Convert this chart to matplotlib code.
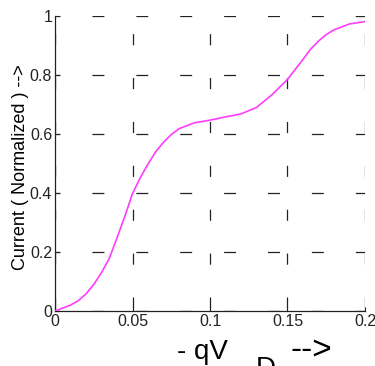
"""
Normalized current vs -qV_D curve, MATLAB-style dashed grid.
"""
import matplotlib
matplotlib.use('Agg')
import matplotlib.pyplot as plt

# data
qvd = [0, 0.005, 0.01, 0.015, 0.02, 0.025, 0.03, 0.035, 0.04, 0.045, 0.05,
       0.055, 0.06, 0.065, 0.07, 0.075, 0.08, 0.09, 0.1, 0.11, 0.12, 0.13,
       0.14, 0.15, 0.16, 0.165, 0.17, 0.175, 0.18, 0.19, 0.2]
current = [0, 0.01, 0.02, 0.035, 0.058, 0.09, 0.13, 0.178, 0.248, 0.32, 0.398,
           0.452, 0.498, 0.54, 0.572, 0.598, 0.618, 0.638, 0.647, 0.658, 0.668, 0.69,
           0.733, 0.785, 0.853, 0.888, 0.915, 0.937, 0.953, 0.973, 0.981]
x_ticks = [0, 0.05, 0.1, 0.15, 0.2]
x_tick_labels = ['0', '0.05', '0.1', '0.15', '0.2']
y_ticks = [0, 0.2, 0.4, 0.6, 0.8, 1]
y_tick_labels = ['0', '0.2', '0.4', '0.6', '0.8', '1']

plt.rcParams['font.family'] = ['Liberation Sans', 'DejaVu Sans']
plt.rcParams['lines.scale_dashes'] = False

fig = plt.figure(figsize=(3.75, 3.66), dpi=100)
ax = fig.add_axes([0.1467, 0.1503, 0.8266, 0.806])

ax.plot(qvd, current, color='#ff3cff', linewidth=1.2, zorder=3)

ax.set_xlim(0, 0.2)
ax.set_ylim(0, 1)
ax.set_xticks(x_ticks)
ax.set_xticklabels(x_tick_labels)
ax.set_yticks(y_ticks)
ax.set_yticklabels(y_tick_labels)
ax.tick_params(direction='in', length=3, width=0.8, labelsize=11.5, pad=2,
               colors='#222222')

# long dash / long gap grid, different phase for each direction
ax.yaxis.grid(True, color='#222222', linewidth=0.9, linestyle=(5.0, (8.6, 23.0)))
ax.xaxis.grid(True, color='#222222', linewidth=0.9, linestyle=(29.5, (8.0, 23.6)))
ax.set_axisbelow(True)

for side in ['top', 'right']:
    ax.spines[side].set_visible(False)
for side in ['left', 'bottom']:
    ax.spines[side].set_linewidth(0.9)
    ax.spines[side].set_color('#222222')

fig.text(21 / 375, 1 - 167 / 366, 'Current ( Normalized ) -->', rotation=90,
         ha='center', va='center', fontsize=13)

# x label: "- qV" with a lowered "D" and an arrow
fig.text(177 / 375, 1 - 359 / 366, '- qV', fontsize=20, ha='left', va='baseline')
fig.text(256 / 375, 1 - 376 / 366, 'D', fontsize=20, ha='left', va='baseline')
fig.text(291 / 375, 1 - 360 / 366, '-->', fontsize=24, ha='left', va='baseline')

fig.savefig('out.png', dpi=100)
